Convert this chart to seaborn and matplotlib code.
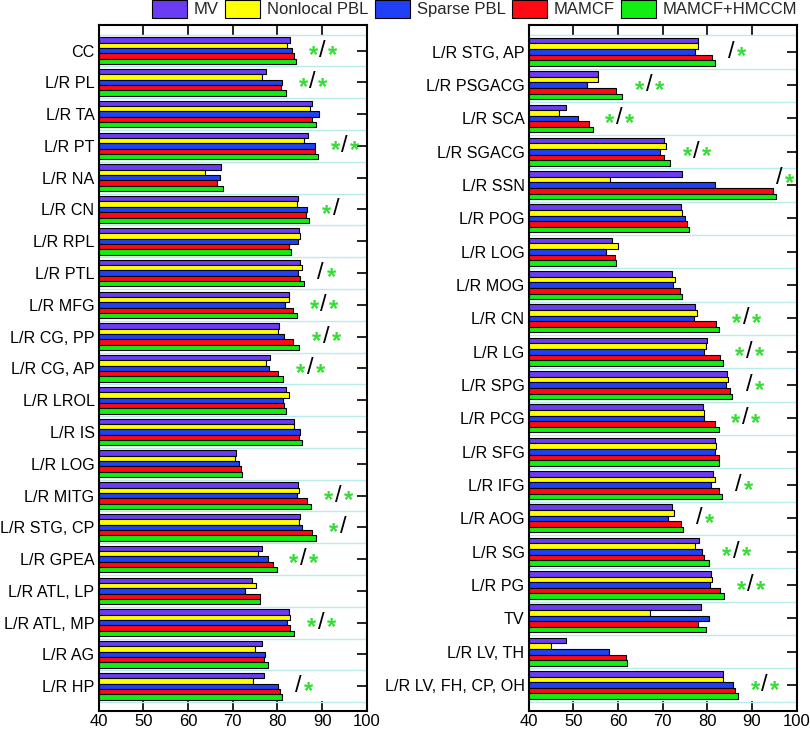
import matplotlib
matplotlib.use('Agg')
import matplotlib.pyplot as plt
from matplotlib.patches import Patch
import seaborn as sns
import pandas as pd
import numpy as np

# methods and their colours
methods = ['MV', 'Nonlocal PBL', 'Sparse PBL', 'MAMCF', 'MAMCF+HMCCM']
colors = ['#6a3cf2', '#ffff00', '#2040f5', '#ff0a14', '#11ee11']

# left panel
left_regions = ['CC', 'L/R PL', 'L/R TA', 'L/R PT', 'L/R NA', 'L/R CN', 'L/R RPL',
                'L/R PTL', 'L/R MFG', 'L/R CG, PP', 'L/R CG, AP', 'L/R LROL', 'L/R IS',
                'L/R LOG', 'L/R MITG', 'L/R STG, CP', 'L/R GPEA', 'L/R ATL, LP',
                'L/R ATL, MP', 'L/R AG', 'L/R HP']
left_mv = [82.8, 77.4, 87.8, 86.9, 67.3, 84.5, 84.8, 85.1, 82.5, 80.4, 78.3, 82.0, 83.6,
           70.7, 84.5, 85.1, 76.6, 74.4, 82.5, 76.6, 77.1]
left_nl = [82.2, 76.5, 87.4, 86.0, 63.8, 84.3, 85.1, 85.6, 82.6, 80.2, 77.5, 82.5, 83.6,
           70.4, 84.9, 84.9, 75.7, 75.1, 82.9, 74.9, 74.6]
left_sp = [83.2, 81.0, 89.3, 88.3, 67.2, 86.7, 84.6, 84.7, 81.6, 81.5, 78.2, 81.3, 85.0,
           71.3, 84.3, 85.5, 77.9, 72.7, 82.2, 77.3, 80.1]
left_mamcf = [83.8, 80.8, 87.7, 88.5, 66.5, 86.3, 82.7, 85.1, 83.4, 83.4, 80.2, 81.4, 84.8,
              71.8, 86.7, 87.8, 79.0, 76.2, 82.9, 76.9, 80.6]
left_hmccm = [84.1, 81.9, 88.7, 89.0, 67.8, 87.1, 83.1, 86.0, 84.3, 84.9, 81.3, 81.9, 85.4,
              72.1, 87.6, 88.7, 79.8, 76.2, 83.8, 77.8, 81.0]
left_sig = ['*/*', '*/*', '', '*/*', '', '*/', '', '/*', '*/*', '*/*', '*/*', '', '',
            '', '*/*', '*/', '*/*', '', '*/*', '', '/*']

# right panel
right_regions = ['L/R STG, AP', 'L/R PSGACG', 'L/R SCA', 'L/R SGACG', 'L/R SSN', 'L/R POG',
                 'L/R LOG', 'L/R MOG', 'L/R CN', 'L/R LG', 'L/R SPG', 'L/R PCG', 'L/R SFG',
                 'L/R IFG', 'L/R AOG', 'L/R SG', 'L/R PG', 'TV', 'L/R LV, TH',
                 'L/R LV, FH, CP, OH']
right_mv = [77.8, 55.5, 48.4, 70.2, 74.3, 74.0, 58.7, 72.0, 77.2, 79.9, 84.3, 79.0, 81.6,
            81.3, 72.0, 78.2, 80.9, 78.5, 48.3, 83.6]
right_nl = [78.0, 55.6, 46.7, 70.7, 58.2, 74.4, 59.9, 72.8, 77.7, 79.8, 84.6, 79.3, 82.0,
            81.8, 72.5, 77.2, 81.0, 67.2, 44.9, 83.6]
right_sp = [77.3, 53.0, 51.0, 69.3, 81.8, 75.0, 57.4, 72.4, 77.1, 79.3, 84.2, 79.3, 81.6,
            80.7, 71.1, 78.7, 80.5, 80.4, 57.9, 85.8]
right_mamcf = [81.1, 59.5, 53.5, 70.4, 94.6, 75.5, 59.4, 73.9, 82.0, 82.9, 85.1, 81.6, 82.5,
               82.7, 74.1, 79.3, 82.8, 78.0, 61.7, 86.1]
right_hmccm = [81.6, 60.9, 54.3, 71.6, 95.3, 75.8, 59.6, 74.3, 82.7, 83.4, 85.6, 82.5, 82.7,
               83.3, 74.5, 80.4, 83.7, 79.6, 61.9, 86.8]
right_sig = ['/*', '*/*', '*/*', '*/*', '/*', '', '', '', '*/*', '*/*', '/*', '*/*', '',
             '/*', '/*', '*/*', '*/*', '', '', '*/*']


def to_long(regions, series):
    rows = []
    for m, vals in zip(methods, series):
        for r, v in zip(regions, vals):
            rows.append({'region': r, 'method': m, 'value': v})
    return pd.DataFrame(rows)


sns.set_style('ticks')
plt.rcParams['font.family'] = ['Liberation Sans', 'DejaVu Sans']

fig = plt.figure(figsize=(8.1, 7.34), dpi=100)
ax_l = fig.add_axes([0.1219, 0.0317, 0.3309, 0.9349])
ax_r = fig.add_axes([0.6527, 0.0317, 0.3309, 0.9349])

panels = [
    (ax_l, left_regions, [left_mv, left_nl, left_sp, left_mamcf, left_hmccm], left_sig),
    (ax_r, right_regions, [right_mv, right_nl, right_sp, right_mamcf, right_hmccm], right_sig),
]

for ax, regions, series, sigs in panels:
    df = to_long(regions, series)
    sns.barplot(data=df, x='value', y='region', hue='method', hue_order=methods,
                palette=colors, orient='h', width=0.84, edgecolor='black', linewidth=0.8,
                saturation=1, ax=ax, legend=False)
    n = len(regions)
    ax.set_xlim(40, 100)
    ax.set_ylim(n - 0.5 + 0.27, -0.5 - 0.32)
    ax.set_xticks(np.arange(40, 101, 10))
    ax.set_yticks(np.arange(-0.5, n, 1), minor=True)
    ax.grid(which='minor', axis='y', color='#b8ecec', lw=1.0)
    ax.set_axisbelow(True)
    ax.set_xlabel('')
    ax.set_ylabel('')
    ax.tick_params(axis='both', which='major', direction='in', top=True, right=True,
                   length=7, width=1.2, color='black', labelcolor='black')
    ax.tick_params(axis='x', pad=2, labelsize=12)
    ax.tick_params(axis='y', labelsize=11.6, pad=3)
    ax.tick_params(which='minor', length=0)
    for s in ax.spines.values():
        s.set_linewidth(1.5)
        s.set_color('black')

    # significance markers
    for i, sig in enumerate(sigs):
        if not sig:
            continue
        top = max(v[i] for v in series)
        off = 3.7 if sig == '/*' else 6.0
        x = top + off
        y = i
        if x > 96.5:
            x = 96.0
            y = i - 0.2
        ax.text(x, y, '/', ha='center', va='center', fontsize=17, color='black', clip_on=False)
        if sig.startswith('*'):
            ax.text(x - 2.1, y + 0.15, '*', ha='center', va='center', fontsize=17,
                    color='#33dd33', fontweight='bold', clip_on=False)
        if sig.endswith('*'):
            ax.text(x + 2.3, y + 0.15, '*', ha='center', va='center', fontsize=17,
                    color='#33dd33', fontweight='bold', clip_on=False)

handles = [Patch(facecolor=c, edgecolor='black', linewidth=0.8, label=m) for m, c in zip(methods, colors)]
fig.legend(handles=handles, loc='upper right', bbox_to_anchor=(0.995, 1.012), ncol=5,
           frameon=False, fontsize=12, handlelength=2.1, handleheight=1.35,
           handletextpad=0.4, columnspacing=0.4, borderaxespad=0.1)

fig.savefig('out.png', dpi=100)
